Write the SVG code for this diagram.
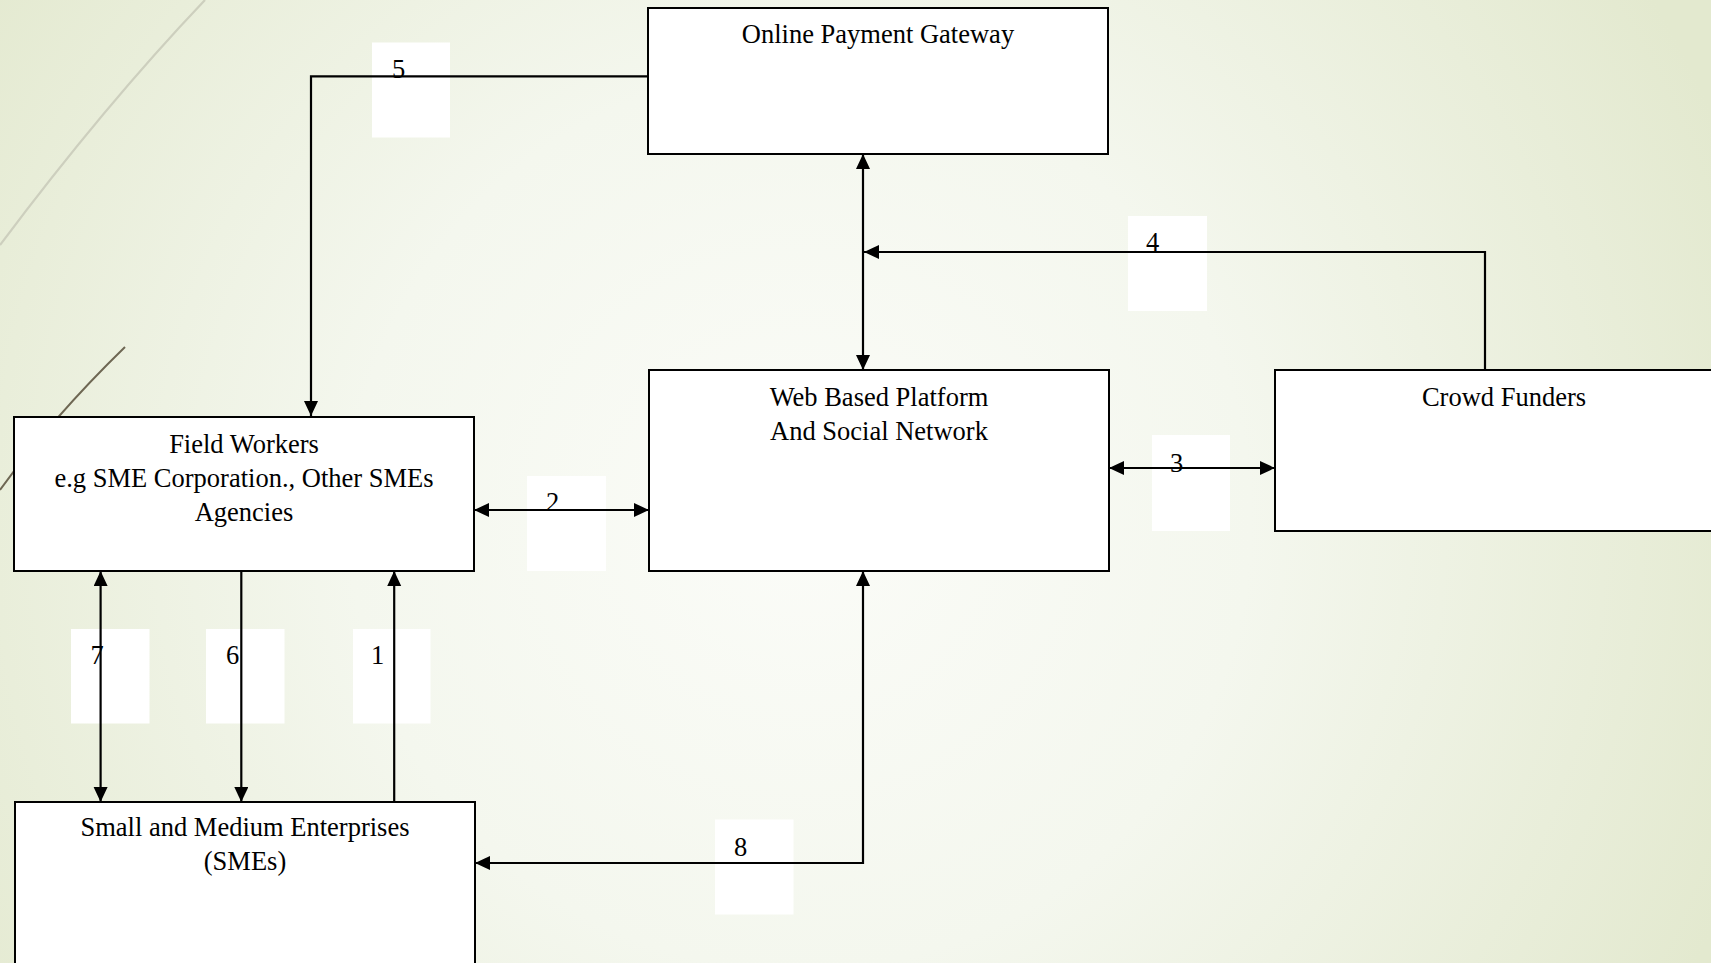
<svg xmlns="http://www.w3.org/2000/svg" width="1711" height="963" viewBox="0 0 1711 963">
<defs>
<radialGradient id="bg" gradientUnits="userSpaceOnUse" cx="800" cy="520" r="1000">
<stop offset="0" stop-color="#fbfcf8"/>
<stop offset="0.45" stop-color="#f4f7ee"/>
<stop offset="1" stop-color="#e3e9cf"/>
</radialGradient>
<marker id="ah" markerUnits="userSpaceOnUse" markerWidth="17" markerHeight="15" refX="15" refY="7" orient="auto-start-reverse" viewBox="0 0 17 15">
<path d="M0,0 L15,7 L0,14 z" fill="#000"/>
</marker>
<style>
.box{fill:#fff;stroke:#000;stroke-width:2}
.t{font-family:"Liberation Serif","Times New Roman",serif;font-size:26.5px;fill:#000;text-anchor:middle}
.d{font-family:"Liberation Serif","Times New Roman",serif;font-size:26.5px;fill:#000}
.c{fill:none;stroke:#000;stroke-width:2.2}
.lb{fill:#fff}
</style>
</defs>
<rect x="0" y="0" width="1711" height="963" fill="url(#bg)"/>
<g id="decor">
<path d="M205,0 Q105,105 0,245" fill="none" stroke="#cdcfbe" stroke-width="2.2"/>
<path d="M125,347 Q52,418 0,490" fill="none" stroke="#6e6753" stroke-width="2"/>
</g>
<g id="node-gateway">
<rect class="box" x="648" y="8" width="460" height="146"/>
<text class="t" x="878" y="43">Online Payment Gateway</text>
</g>
<g id="node-platform">
<rect class="box" x="649" y="370" width="460" height="201"/>
<text class="t" x="879" y="406">Web Based Platform</text>
<text class="t" x="879" y="440">And Social Network</text>
</g>
<g id="node-crowd">
<rect class="box" x="1275" y="370" width="460" height="161"/>
<text class="t" x="1504" y="406">Crowd Funders</text>
</g>
<g id="node-field">
<rect class="box" x="14" y="417" width="460" height="154"/>
<text class="t" x="244" y="453">Field Workers</text>
<text class="t" x="244" y="487">e.g SME Corporation., Other SMEs</text>
<text class="t" x="244" y="521">Agencies</text>
</g>
<g id="node-smes">
<rect class="box" x="15" y="802" width="460" height="200"/>
<text class="t" x="245" y="836">Small and Medium Enterprises</text>
<text class="t" x="245" y="870">(SMEs)</text>
</g>
<g id="label-bgs">
<rect class="lb" x="372" y="42.5" width="78" height="95"/>
<rect class="lb" x="1128" y="216" width="79" height="95"/>
<rect class="lb" x="1152" y="435" width="78" height="96"/>
<rect class="lb" x="527" y="476" width="79" height="95"/>
<rect class="lb" x="71" y="629" width="78.5" height="94.5"/>
<rect class="lb" x="206" y="629" width="78.5" height="94.5"/>
<rect class="lb" x="353" y="629" width="77.5" height="94.5"/>
<rect class="lb" x="715" y="819.5" width="78.5" height="95"/>
</g>
<g id="connectors">
<path class="c" d="M648,76.4 H311 V416" marker-end="url(#ah)"/>
<path class="c" d="M863,154 V370" marker-start="url(#ah)" marker-end="url(#ah)"/>
<path class="c" d="M1485,370 V252 H864" marker-end="url(#ah)"/>
<path class="c" d="M1109,468 H1275" marker-start="url(#ah)" marker-end="url(#ah)"/>
<path class="c" d="M474,510 H649" marker-start="url(#ah)" marker-end="url(#ah)"/>
<path class="c" d="M100.6,571 V802" marker-start="url(#ah)" marker-end="url(#ah)"/>
<path class="c" d="M241.3,571 V802" marker-end="url(#ah)"/>
<path class="c" d="M394.2,802 V571" marker-end="url(#ah)"/>
<path class="c" d="M475,863 H863 V571" marker-start="url(#ah)" marker-end="url(#ah)"/>
</g>
<g id="label-texts">
<text class="d" x="392" y="78">5</text>
<text class="d" x="1146" y="251">4</text>
<text class="d" x="1170" y="472">3</text>
<text class="d" x="546" y="511">2</text>
<text class="d" x="90.5" y="664">7</text>
<text class="d" x="226" y="664">6</text>
<text class="d" x="371" y="664">1</text>
<text class="d" x="734" y="856">8</text>
</g>
</svg>
